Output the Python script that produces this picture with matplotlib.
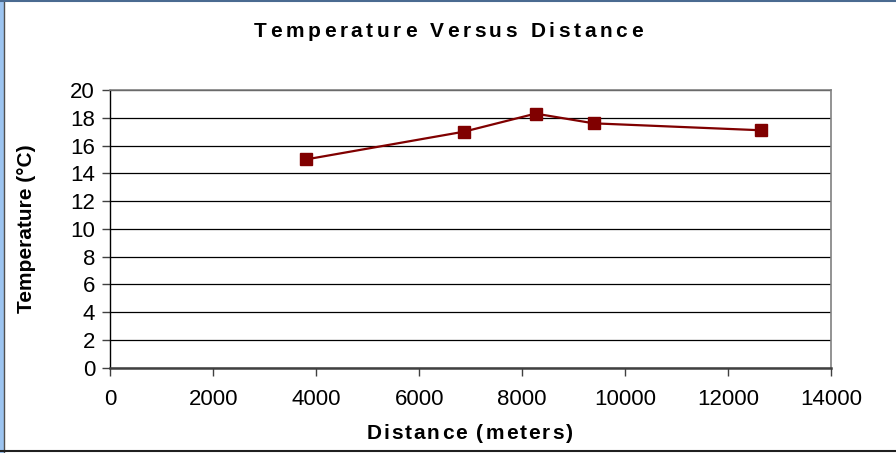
import matplotlib.pyplot as plt
from matplotlib.patches import Rectangle
from matplotlib.lines import Line2D

distance = [3800, 6870, 8260, 9390, 12640]
temperature = [15.0, 17.0, 18.3, 17.6, 17.1]

x_ticks = [0, 2000, 4000, 6000, 8000, 10000, 12000, 14000]
y_ticks = [0, 2, 4, 6, 8, 10, 12, 14, 16, 18, 20]

plt.rcParams['font.family'] = ['Liberation Sans', 'DejaVu Sans']

fig = plt.figure(figsize=(8.96, 4.53), dpi=100)
ax = fig.add_axes([0.1232, 0.1883, 0.8043, 0.6130])

ax.plot(distance, temperature, color='#800000', linewidth=1.6,
        marker='s', markersize=8, markerfacecolor='#800000',
        markeredgecolor='#800000', zorder=3)

ax.set_xlim(0, 14000)
ax.set_ylim(0, 20)
ax.set_xticks(x_ticks)
ax.set_yticks(y_ticks)
ax.set_xticklabels([str(v) for v in x_ticks])
ax.set_yticklabels([str(v) for v in y_ticks])

ax.yaxis.grid(True, color='black', linewidth=0.9)
ax.set_axisbelow(True)

ax.spines['top'].set_color('#808080')
ax.spines['right'].set_color('#808080')
ax.spines['top'].set_linewidth(1.2)
ax.spines['right'].set_linewidth(1.2)
ax.spines['left'].set_color('black')
ax.spines['left'].set_linewidth(1.0)
ax.spines['bottom'].set_color('#404040')
ax.spines['bottom'].set_linewidth(1.8)

ax.tick_params(axis='both', direction='out', length=6, width=1,
               color='#404040', labelsize=16, pad=5)
ax.tick_params(axis='x', pad=9)

ax.set_ylabel('Temperature (\u00b0C)', fontsize=15, fontweight='bold', labelpad=25)


def spaced_text(s, xc, yc, gap_px, **kw):
    # draw a string with extra spacing between letters, centred at (xc, yc)
    renderer = fig.canvas.get_renderer()
    widths = []
    for ch in s:
        t = fig.text(0, 0, ch.replace(' ', '\u00a0'), **kw)
        widths.append(t.get_window_extent(renderer).width if ch != ' ' else None)
        t.remove()
    space = fig.text(0, 0, 'a b', **kw)
    ab = fig.text(0, 0, 'ab', **kw)
    sp_w = space.get_window_extent(renderer).width - ab.get_window_extent(renderer).width
    space.remove()
    ab.remove()
    widths = [w if w is not None else sp_w for w in widths]
    total = sum(widths) + gap_px * (len(s) - 1)
    x = xc * fig.bbox.width - total / 2
    for ch, w in zip(s, widths):
        if ch != ' ':
            fig.text(x / fig.bbox.width, yc, ch, ha='left', va='center', **kw)
        x += w + gap_px


spaced_text('Temperature Versus Distance', 0.5, 0.930, 3.6,
            fontsize=15, fontweight='bold')
spaced_text('Distance (meters)', 0.524, 0.044, 1.9,
            fontsize=15, fontweight='bold')

# outer chart frame
fig.patches.append(Rectangle((0, 0), 3.5 / 896, 1, transform=fig.transFigure,
                             facecolor='#9cc4f0', edgecolor='none'))
fig.lines.append(Line2D([3.5 / 896, 3.5 / 896], [0, 1], transform=fig.transFigure,
                        color='#505050', linewidth=1))
fig.lines.append(Line2D([0, 1], [1 - 1 / 453, 1 - 1 / 453], transform=fig.transFigure,
                        color='#4a6a90', linewidth=1.5))
fig.lines.append(Line2D([0, 1], [2 / 453, 2 / 453], transform=fig.transFigure,
                        color='#202020', linewidth=1.5))

fig.savefig('out.png', dpi=100)
